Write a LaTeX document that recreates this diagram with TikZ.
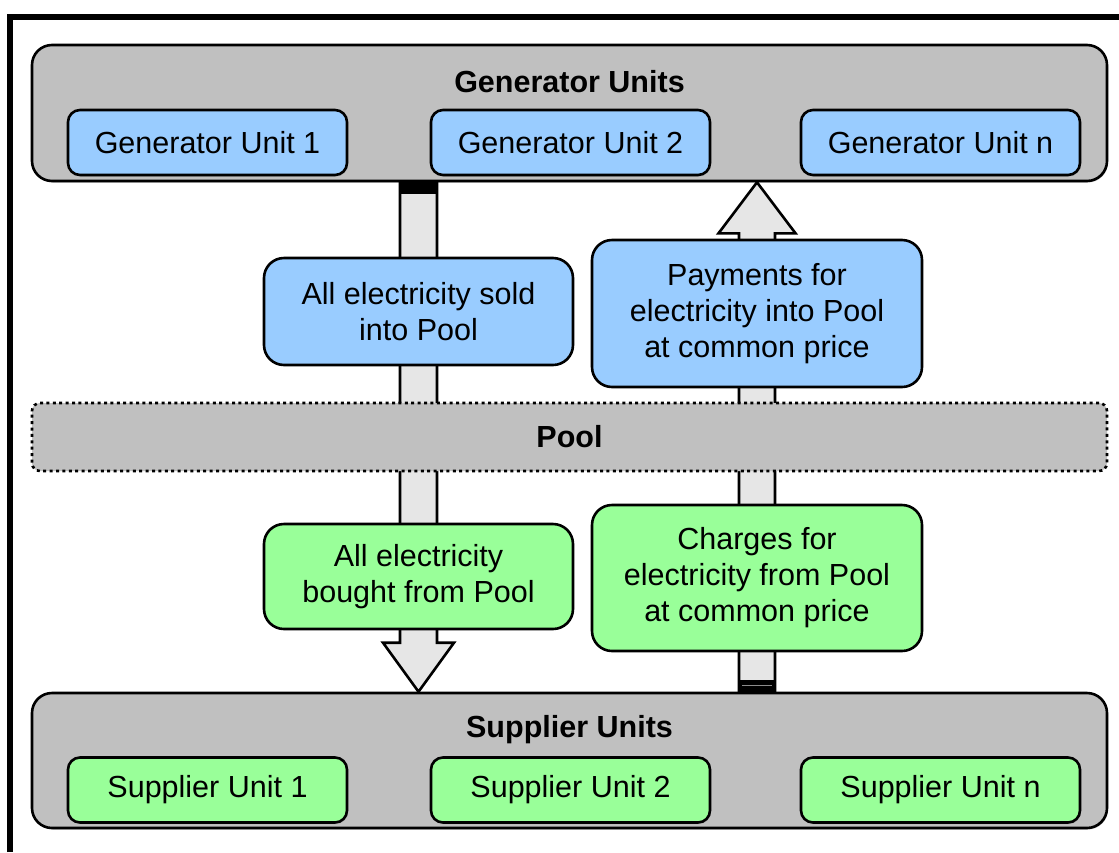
\documentclass[tikz,border=0pt]{standalone}
\usepackage{fontspec}
\setmainfont{Liberation Sans}
\usetikzlibrary{calc,shadows}
\definecolor{boxblue}{HTML}{99CCFF}
\definecolor{boxgreen}{HTML}{99FF99}
\definecolor{panelgray}{HTML}{C0C0C0}
\definecolor{arrowgray}{HTML}{E6E6E6}
\tikzset{
  base/.style={draw=black, line width=2.6pt, inner sep=0pt, align=center,
    font=\fontsize{30.5}{36}\selectfont},
  container/.style={base, fill=panelgray, rounded corners=20pt,
    minimum width=1075pt, drop shadow={shadow xshift=1pt, shadow yshift=-1.5pt, fill=black!40, opacity=0.6}},
  unitbox/.style={base, rounded corners=12pt, minimum width=279pt, minimum height=65pt,
    drop shadow={shadow xshift=1pt, shadow yshift=-1.5pt, fill=black!40, opacity=0.6}},
  flowbox/.style={base, rounded corners=20pt},
  poolbox/.style={base, fill=panelgray, rounded corners=8pt, minimum width=1075pt,
    minimum height=68pt, line width=2.6pt, dash pattern=on 3pt off 3.4pt},
  title/.style={font=\fontsize{30.5}{36}\selectfont\bfseries, inner sep=0pt},
  blockarrow/.style={draw=black, fill=arrowgray, line width=2.6pt, line join=miter},
}
\begin{document}
\begin{tikzpicture}[x=1pt, y=-1pt]
\useasboundingbox (0,0) rectangle (1119,852);
\fill[white] (0,0) rectangle (1119,852);
% outer frame (cut at the right and bottom)
\draw[line width=6pt] (10,852) -- (10,17) -- (1119,17);

% containers
\node[container, minimum height=136pt] (gen) at (569.5,113) {};
\node[title] (gentitle) at (569.5,82) {Generator Units};
\node[unitbox, fill=boxblue] (g1) at (207.5,142.5) {Generator Unit 1};
\node[unitbox, fill=boxblue] (g2) at (570.5,142.5) {Generator Unit 2};
\node[unitbox, fill=boxblue] (gn) at (940.5,142.5) {Generator Unit n};

\node[container, minimum height=135pt] (sup) at (569.5,760.5) {};
\node[title] (suptitle) at (569.5,730) {Supplier Units};
\node[unitbox, fill=boxgreen] (s1) at (207.5,790) {Supplier Unit 1};
\node[unitbox, fill=boxgreen] (s2) at (570.5,790) {Supplier Unit 2};
\node[unitbox, fill=boxgreen] (sn) at (940.5,790) {Supplier Unit n};

% positions of the flow boxes (needed for the arrows)
\coordinate (soldpos) at (418.5,311.5);
\coordinate (paypos) at (757,313.5);

% down arrow: generators -> suppliers
\coordinate (dtop) at (soldpos |- gen.south);
\coordinate (dtip) at (soldpos |- sup.north);
\draw[blockarrow] ($(dtop)+(-18.5,0)$) -- ($(dtop)+(18.5,0)$) -- ($(dtip)+(18.5,-49)$)
  -- ($(dtip)+(35.5,-49)$) -- (dtip) -- ($(dtip)+(-35.5,-49)$) -- ($(dtip)+(-18.5,-49)$) -- cycle;
\fill[black] ($(dtop)+(-19.8,0)$) rectangle ($(dtop)+(19.8,12)$);

% up arrow: suppliers -> generators
\coordinate (utip) at (paypos |- gen.south);
\coordinate (ubot) at (paypos |- sup.north);
\draw[blockarrow] ($(ubot)+(-18,0)$) -- ($(ubot)+(18,0)$) -- ($(utip)+(18,51)$)
  -- ($(utip)+(38.5,51)$) -- (utip) -- ($(utip)+(-38.5,51)$) -- ($(utip)+(-18,51)$) -- cycle;
\fill[black] ($(ubot)+(-19.3,0)$) rectangle ($(ubot)+(19.3,-12)$);
\draw[black!45, line width=0.8pt] ($(ubot)+(-15,-6)$) -- ($(ubot)+(15,-6)$);

% pool
\node[poolbox] (pool) at (569.5,437) {\bfseries Pool};

% flow boxes
\node[flowbox, fill=boxblue, minimum width=309pt, minimum height=107pt] (sold) at (soldpos)
  {All electricity sold\\into Pool};
\node[flowbox, fill=boxblue, minimum width=330pt, minimum height=147pt] (pay) at (paypos)
  {Payments for\\electricity into Pool\\at common price};
\node[flowbox, fill=boxgreen, minimum width=309pt, minimum height=105pt] (bought) at (418.5,576.5)
  {All electricity\\bought from Pool};
\node[flowbox, fill=boxgreen, minimum width=330pt, minimum height=146pt] (charge) at (757,578)
  {Charges for\\electricity from Pool\\at common price};
\end{tikzpicture}
\end{document}
